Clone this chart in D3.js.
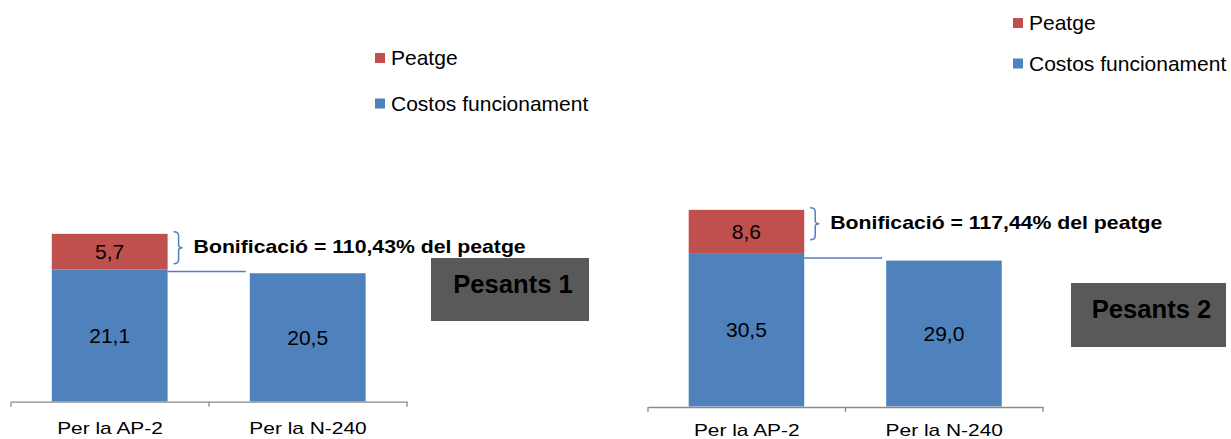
<!DOCTYPE html>
<html>
<head>
<meta charset="utf-8">
<script src="https://cdn.jsdelivr.net/npm/d3@7"></script>
<style>
  body { margin: 0; background: #fff; }
  svg { display: block; font-family: "Liberation Sans", Arial, sans-serif; }
</style>
</head>
<body>
<svg></svg>
<script>
let width = 1231;
let height = 439;

// data
const categories = ["Per la AP-2", "Per la N-240"];
const seriesNames = ["Costos funcionament", "Peatge"];
const costos1 = [21.1, 20.5];
const peatge1 = [5.7, 0];
const costos2 = [30.5, 29.0];
const peatge2 = [8.6, 0];
const connectorLevel = [20.8, 29.5];
const bonusText = ["Bonificació = 110,43% del peatge", "Bonificació = 117,44% del peatge"];
const panelTitles = ["Pesants 1", "Pesants 2"];
const yMax = [30, 40];

let colors = {"Costos funcionament": "#4F81BD", "Peatge": "#C0504D"};

let svg = d3.select('svg')
            .attr('width', width)
            .attr('height', height);

// layout for each panel
let panels = [
  {costos: costos1, peatge: peatge1, xr: [11, 407], y0: 401.5, pxPerUnit: 6.256, axisY: 401.7, labelOff: 32.6,
   legend: {x: 375, y: 53, gap: 45.5}, box: {x: 431, y: 258, w: 158, h: 63}},
  {costos: costos2, peatge: peatge2, xr: [648, 1043], y0: 406.5, pxPerUnit: 5.03, axisY: 407, labelOff: 28.5,
   legend: {x: 1013, y: 18, gap: 40.5}, box: {x: 1071, y: 283, w: 155, h: 64}}
];

panels.forEach(function(p, i) {
  let g = svg.append('g');

  let rows = categories.map((c, j) => ({cat: c, "Costos funcionament": p.costos[j], "Peatge": p.peatge[j]}));
  let stacked = d3.stack().keys(seriesNames)(rows);

  let xb = d3.scaleBand().domain(categories).range(p.xr).padding(0);
  let y = d3.scaleLinear().domain([0, yMax[i]]).range([p.y0, p.y0 - yMax[i] * p.pxPerUnit]);

  let barOff = xb.bandwidth() * 0.206;
  let barW = xb.bandwidth() * 0.585;

  // bars
  let layer = g.selectAll('g.layer')
    .data(stacked)
    .enter()
    .append('g')
    .attr('fill', d => colors[d.key]);

  layer.selectAll('rect')
    .data(d => d.filter(s => s[1] - s[0] > 0))
    .enter()
    .append('rect')
    .attr('x', d => xb(d.data.cat) + barOff)
    .attr('y', d => y(d[1]))
    .attr('width', barW)
    .attr('height', d => y(d[0]) - y(d[1]));

  // value labels
  layer.selectAll('text')
    .data(d => d.filter(s => s[1] - s[0] > 0))
    .enter()
    .append('text')
    .attr('x', d => xb(d.data.cat) + barOff + barW / 2)
    .attr('y', d => (y(d[0]) + y(d[1])) / 2)
    .attr('dy', '0.36em')
    .attr('text-anchor', 'middle')
    .attr('font-size', 21)
    .attr('fill', '#000')
    .text(d => d3.format('.1f')(d[1] - d[0]).replace('.', ','));

  // axis
  let axis = g.append('g')
    .attr('transform', 'translate(0,' + p.axisY + ')')
    .call(d3.axisBottom(xb).tickSize(0).tickSizeOuter(0));
  axis.select('.domain').attr('stroke', '#8a8a8a').attr('stroke-width', 1.3);
  axis.selectAll('.tick text')
    .attr('y', null)
    .attr('dy', null)
    .attr('font-size', 17)
    .attr('font-family', '"Liberation Sans", Arial, sans-serif')
    .attr('fill', '#000')
    .attr('transform', 'translate(0,' + p.labelOff + ') scale(1.23,1)');

  let tickXs = categories.map(c => xb(c)).concat([p.xr[1]]);
  g.selectAll('line.tk')
    .data(tickXs)
    .enter()
    .append('line')
    .attr('x1', d => d).attr('x2', d => d)
    .attr('y1', p.axisY).attr('y2', p.axisY + 5)
    .attr('stroke', '#8a8a8a')
    .attr('stroke-width', 1.3);

  // connector between bars
  let bar1Right = xb(categories[0]) + barOff + barW;
  g.append('line')
    .attr('x1', bar1Right)
    .attr('x2', xb(categories[1]) + barOff - 4)
    .attr('y1', y(connectorLevel[i]))
    .attr('y2', y(connectorLevel[i]))
    .attr('stroke', '#4F81BD')
    .attr('stroke-width', 1.5);

  // brace next to the toll segment
  let top = y(p.costos[0] + p.peatge[0]) - 2;
  let bx = bar1Right + 6;
  let bh = 32;
  let mid = top + bh / 2;
  g.append('path')
    .attr('d', 'M' + bx + ',' + top +
               ' Q' + (bx + 5) + ',' + top + ' ' + (bx + 5) + ',' + (top + 4) +
               ' L' + (bx + 5) + ',' + (mid - 3) +
               ' Q' + (bx + 5) + ',' + mid + ' ' + (bx + 9) + ',' + mid +
               ' Q' + (bx + 5) + ',' + mid + ' ' + (bx + 5) + ',' + (mid + 3) +
               ' L' + (bx + 5) + ',' + (top + bh - 4) +
               ' Q' + (bx + 5) + ',' + (top + bh) + ' ' + bx + ',' + (top + bh))
    .attr('fill', 'none')
    .attr('stroke', '#4F81BD')
    .attr('stroke-width', 1.5);

  g.append('text')
    .attr('transform', 'translate(' + (bx + 20) + ',' + (top + 21) + ') scale(1.18,1)')
    .attr('font-size', 18)
    .attr('font-weight', 'bold')
    .attr('fill', '#000')
    .text(bonusText[i]);

  // title box
  g.append('rect')
    .attr('x', p.box.x).attr('y', p.box.y)
    .attr('width', p.box.w).attr('height', p.box.h)
    .attr('fill', '#595959');
  g.append('text')
    .attr('x', p.box.x + p.box.w / 2 + 3)
    .attr('y', p.box.y + 35)
    .attr('text-anchor', 'middle')
    .attr('font-size', 25.6)
    .attr('font-weight', 'bold')
    .attr('fill', '#000')
    .text(panelTitles[i]);

  // legend (Peatge on top)
  let leg = g.selectAll('g.leg')
    .data(seriesNames.slice().reverse())
    .enter()
    .append('g')
    .attr('transform', (d, k) => 'translate(' + p.legend.x + ',' + (p.legend.y + k * p.legend.gap) + ')');
  leg.append('rect')
    .attr('width', 10).attr('height', 10)
    .attr('fill', d => colors[d]);
  leg.append('text')
    .attr('x', 16)
    .attr('y', 12.3)
    .attr('font-size', 21)
    .attr('fill', '#000')
    .text(d => d);
});
</script>
</body>
</html>
